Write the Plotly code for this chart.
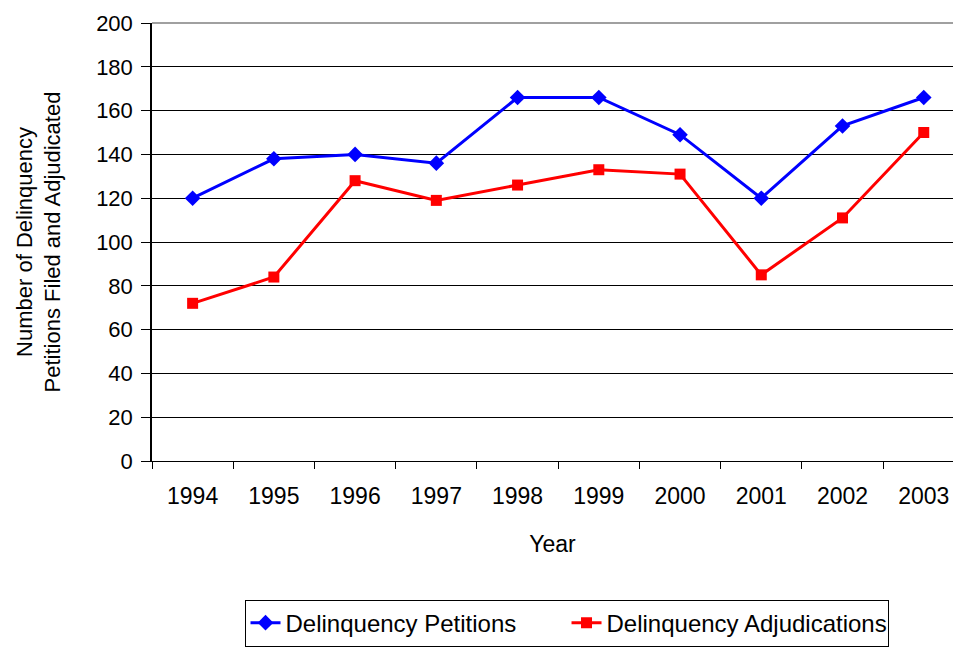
import plotly.graph_objects as go

years = ["1994", "1995", "1996", "1997", "1998", "1999", "2000", "2001", "2002", "2003"]
petitions = [120, 138, 140, 136, 166, 166, 149, 120, 153, 166]
adjudications = [72, 84, 128, 119, 126, 133, 131, 85, 111, 150]
y_ticks = [0, 20, 40, 60, 80, 100, 120, 140, 160, 180, 200]

FONT = "Liberation Sans, Arial, sans-serif"

fig = go.Figure()
fig.add_trace(go.Scatter(
    x=years, y=petitions, name="Delinquency Petitions", mode="lines+markers",
    line=dict(color="#0000ff", width=3),
    marker=dict(symbol="diamond", size=12, color="#0000ff"),
))
fig.add_trace(go.Scatter(
    x=years, y=adjudications, name="Delinquency Adjudications", mode="lines+markers",
    line=dict(color="#ff0000", width=3),
    marker=dict(symbol="square", size=11, color="#ff0000"),
))

fig.update_layout(
    width=953, height=648,
    margin=dict(l=152, r=0, t=23, b=187),
    paper_bgcolor="white", plot_bgcolor="white",
    font=dict(family=FONT, size=23, color="black"),
    showlegend=True,
    legend=dict(
        orientation="h", x=0.5175, y=-0.37, xanchor="center", yanchor="middle",
        bordercolor="black", borderwidth=1, font=dict(size=24, family=FONT),
        entrywidth=276, entrywidthmode="pixels",
    ),
    xaxis=dict(
        type="category", range=[-0.5, 9.36],
        showline=True, linecolor="black", linewidth=1,
        ticks="outside", tickson="boundaries", ticklen=7, tickcolor="black",
        showgrid=False, tickfont=dict(size=23), ticklabelstandoff=14,
        title=dict(text="Year", font=dict(size=23), standoff=28),
        fixedrange=True,
    ),
    yaxis=dict(
        range=[0, 200], tickvals=y_ticks,
        showline=True, linecolor="black", linewidth=1.5,
        ticks="outside", ticklen=9, tickcolor="black",
        showgrid=True, gridcolor="black", gridwidth=1,
        zeroline=False, tickfont=dict(size=22), ticklabelstandoff=4,
        title=dict(text="Number of Delinquency<br>Petitions Filed and Adjudicated",
                   font=dict(size=22), standoff=29),
    ),
)
fig.add_shape(type="line", xref="paper", yref="paper", x0=0, x1=1, y0=1, y1=1,
              line=dict(color="#a0a0a0", width=2))

fig.write_html(
    "out.html",
    config={"displayModeBar": False},
    post_script="document.body.style.margin='0';document.body.style.overflow='hidden';",
)
